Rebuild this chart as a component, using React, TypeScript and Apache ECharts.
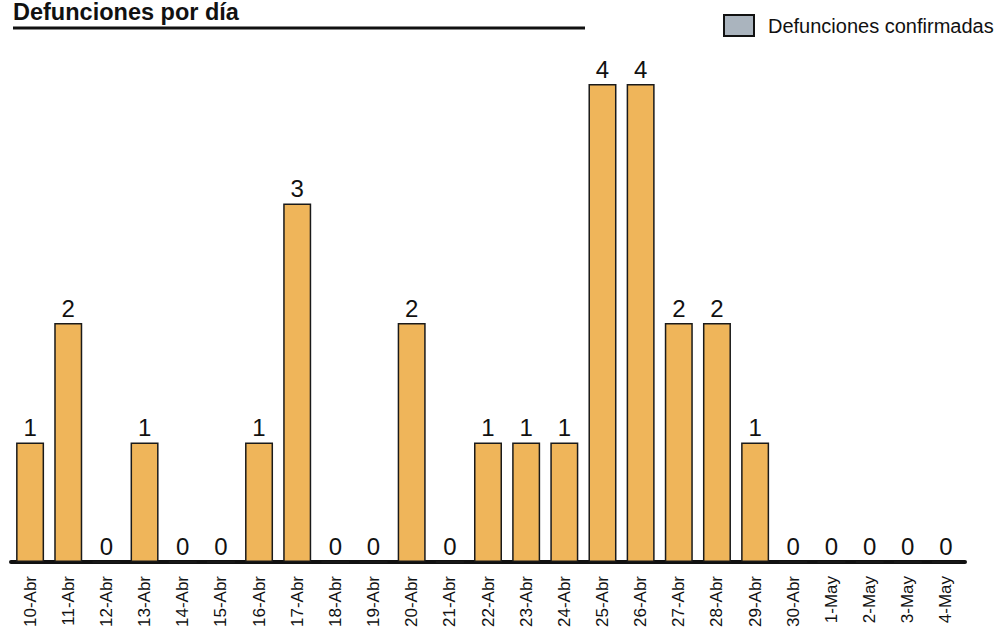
import React, { useEffect, useRef } from "react";
import * as echarts from "echarts";

const categories = [
  "10-Abr", "11-Abr", "12-Abr", "13-Abr", "14-Abr", "15-Abr", "16-Abr", "17-Abr",
  "18-Abr", "19-Abr", "20-Abr", "21-Abr", "22-Abr", "23-Abr", "24-Abr", "25-Abr",
  "26-Abr", "27-Abr", "28-Abr", "29-Abr", "30-Abr", "1-May", "2-May", "3-May", "4-May",
];
const deaths = [1, 2, 0, 1, 0, 0, 1, 3, 0, 0, 2, 0, 1, 1, 1, 4, 4, 2, 2, 1, 0, 0, 0, 0, 0];
const seriesName = "Defunciones confirmadas";
const title = "Defunciones por día";

const FONT = "Liberation Sans, Arial, sans-serif";

export default function App() {
  const ref = useRef<HTMLDivElement>(null);
  useEffect(() => {
    if (!ref.current) return;
    const chart = echarts.init(ref.current, null, { renderer: "svg" });
    chart.setOption({
      animation: false,
      backgroundColor: "#ffffff",
      grid: { left: 11, right: 31, top: 84, bottom: 77, containLabel: false },
      legend: {
        left: 723,
        top: 14,
        padding: 0,
        itemWidth: 30,
        itemHeight: 21,
        icon: "rect",
        textStyle: { fontFamily: FONT, fontSize: 20, color: "#111", padding: [0, 0, 0, 9] },
        data: [
          {
            name: seriesName,
            itemStyle: { color: "#aab4be", borderColor: "#111", borderWidth: 2 },
          },
        ],
      },
      xAxis: {
        type: "category",
        data: categories,
        axisLine: { show: true, lineStyle: { color: "#111", width: 4 } },
        axisTick: { show: false },
        axisLabel: {
          rotate: 90,
          interval: 0,
          margin: 14,
          fontFamily: FONT,
          fontSize: 17,
          color: "#111",
        },
      },
      yAxis: {
        type: "value",
        min: 0,
        max: 4,
        show: false,
        splitLine: { show: false },
      },
      series: [
        {
          name: seriesName,
          type: "bar",
          data: deaths,
          barWidth: 28,
          itemStyle: { color: "#efb55a", borderColor: "#1a1a1a", borderWidth: 1.5 },
          label: {
            show: true,
            position: "top",
            distance: 3,
            fontFamily: FONT,
            fontSize: 24,
            color: "#111",
          },
        },
      ],
      graphic: [
        {
          type: "text",
          left: 13,
          top: 0,
          style: {
            text: title,
            font: `bold 23.5px ${FONT}`,
            fill: "#111",
          },
        },
        {
          type: "line",
          shape: { x1: 13, y1: 28, x2: 585, y2: 28 },
          style: { stroke: "#111", lineWidth: 3 },
        },
      ],
    });
    return () => chart.dispose();
  }, []);
  return (
    <div
      ref={ref}
      style={{ position: "fixed", left: 0, top: 0, width: 996, height: 639, background: "#fff" }}
    />
  );
}
